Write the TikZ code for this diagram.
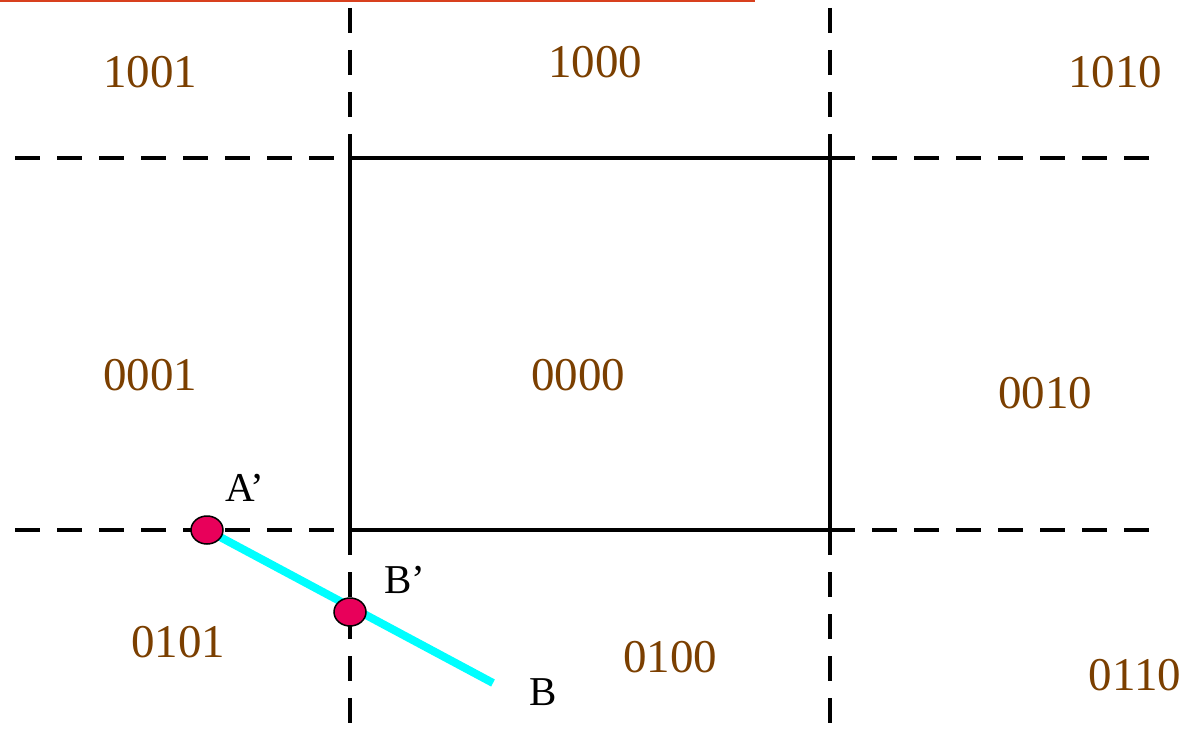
\documentclass[tikz,border=0pt]{standalone}
\usepackage{fontspec}
\setmainfont{Liberation Serif}
\usetikzlibrary{shapes.geometric}
\definecolor{codebrown}{HTML}{7B3F00}
\definecolor{ptpink}{HTML}{E8005A}
\definecolor{segcyan}{HTML}{00FFFF}
\definecolor{rulered}{HTML}{D8401E}
\tikzset{
  code/.style={text=codebrown, font=\fontsize{47}{47}\selectfont, inner sep=0pt},
  ptlabel/.style={text=black, font=\fontsize{41}{41}\selectfont, inner sep=0pt},
  dashline/.style={line width=4.5pt, dash pattern=on 25pt off 17pt},
  solidline/.style={line width=4.5pt},
  pt/.style={ellipse, draw=black, line width=1.5pt, fill=ptpink, minimum width=32pt, minimum height=28pt, inner sep=0pt},
  seg/.style={segcyan, line width=8pt}
}
\begin{document}
\begin{tikzpicture}[x=1pt,y=-1pt]
\useasboundingbox (0,0) rectangle (1188,735);
% top red rule
\draw[rulered, line width=2pt] (0,1) -- (755,1);
% dashed extensions
\draw[dashline] (350,8) -- (350,158);
\draw[dashline] (830,8) -- (830,158);
\draw[dashline] (350,530) -- (350,735);
\draw[dashline] (830,530) -- (830,735);
\draw[dashline] (15,158) -- (350,158);
\draw[dashline] (830,158) -- (1150,158);
\draw[dashline] (15,530) -- (350,530);
\draw[dashline] (830,530) -- (1150,530);
% window
\draw[solidline] (350,158) rectangle (830,530);
% region codes
\node[code] (c1001) at (150,72) {1001};
\node[code] (c1000) at (595,62) {1000};
\node[code] (c1010) at (1115,72) {1010};
\node[code] (c0001) at (150,375) {0001};
\node[code] (c0000) at (578,375) {0000};
\node[code] (c0010) at (1045,393) {0010};
\node[code] (c0101) at (178,642) {0101};
\node[code] (c0100) at (670,657) {0100};
\node[code] (c0110) at (1135,675) {0110};
% segment
\coordinate (Bend) at (493,683);
\coordinate (Apos) at (207,530);
\draw[seg] (Apos) -- (Bend);
\node[pt] (Ap) at (Apos) {};
\node[pt] (Bp) at (350,612) {};
\node[ptlabel] (lAp) at (245,488) {A’};
\node[ptlabel] (lBp) at (405,580) {B’};
\node[ptlabel] (lB) at (543,692) {B};
\end{tikzpicture}
\end{document}
